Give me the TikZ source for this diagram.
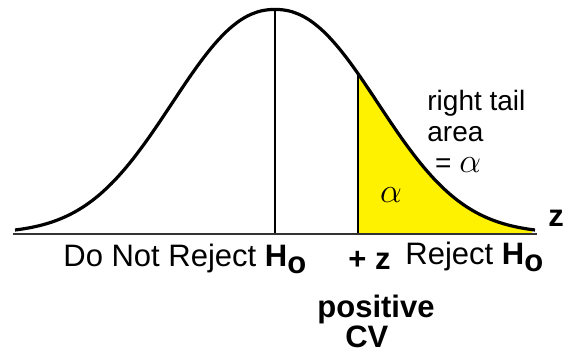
\documentclass[tikz,border=0pt]{standalone}
\usepackage{fontspec}
\setmainfont{Liberation Sans}
\usetikzlibrary{positioning}
\tikzset{
  curve/.style={line width=1.6pt, black, line join=round},
  axisline/.style={line width=1pt, black!80},
  cutline/.style={line width=0.8pt, black},
  tailfill/.style={fill=yellow},
  lbl/.style={font=\fontsize{15.5}{17}\selectfont, inner sep=0pt},
  blbl/.style={font=\fontsize{15.5}{15}\selectfont\bfseries, inner sep=0pt},
  sidelbl/.style={font=\fontsize{14}{15.5}\selectfont, inner sep=0pt, align=left},
}
\newcommand{\Hnull}{\textbf{H\raisebox{-0.22em}{o}}}
\newcommand{\bigalpha}{{\fontsize{16}{16}\selectfont$\alpha$}}

\begin{document}
\begin{tikzpicture}[x=0.5pt, y=-0.5pt,
    declare function={dens(\x)=233.5-224*exp(-((abs(\x-275)+0.01)/136)^2.2);}]
  \useasboundingbox (0,0) rectangle (568,356);

  % axis and cut points
  \coordinate (axl) at (13,234);
  \coordinate (axr) at (537,234);
  \coordinate (mu) at (275,234);
  \coordinate (cv) at (358,234);
  \coordinate (tailend) at (532,234);
  \coordinate (peak) at (275,{dens(275)});
  \coordinate (cvtop) at (358,{dens(358)});

  \fill[tailfill] (cv) -- plot[domain=358:532, samples=80] (\x,{dens(\x)}) -- (tailend) -- cycle;
  \draw[cutline] (mu) -- (peak);
  \draw[cutline] (cv) -- (cvtop);
  \draw[axisline] (axl) -- (axr);
  \draw[curve] plot[domain=15:535, samples=200] (\x,{dens(\x)});

  % labels
  \node[lbl, anchor=base west] (keep) at (63,267) {Do Not Reject \Hnull};
  \node[blbl, anchor=base west] (crit) at (348,270) {+ z};
  \node[lbl, anchor=base west] (reject) at (405,265) {Reject \Hnull};
  \node[blbl, anchor=base west] (zaxis) at (548,227) {z};
  \node[blbl, anchor=base west, align=left] (poscv) at (317,348) {positive\\\hspace*{0.9em}CV};
  \node[sidelbl, anchor=base west] (tailarea) at (427,173) {right tail\\area\\~= \bigalpha};
  \node[inner sep=0pt] (alpha) at (391,195) {\bigalpha};
\end{tikzpicture}
\end{document}
